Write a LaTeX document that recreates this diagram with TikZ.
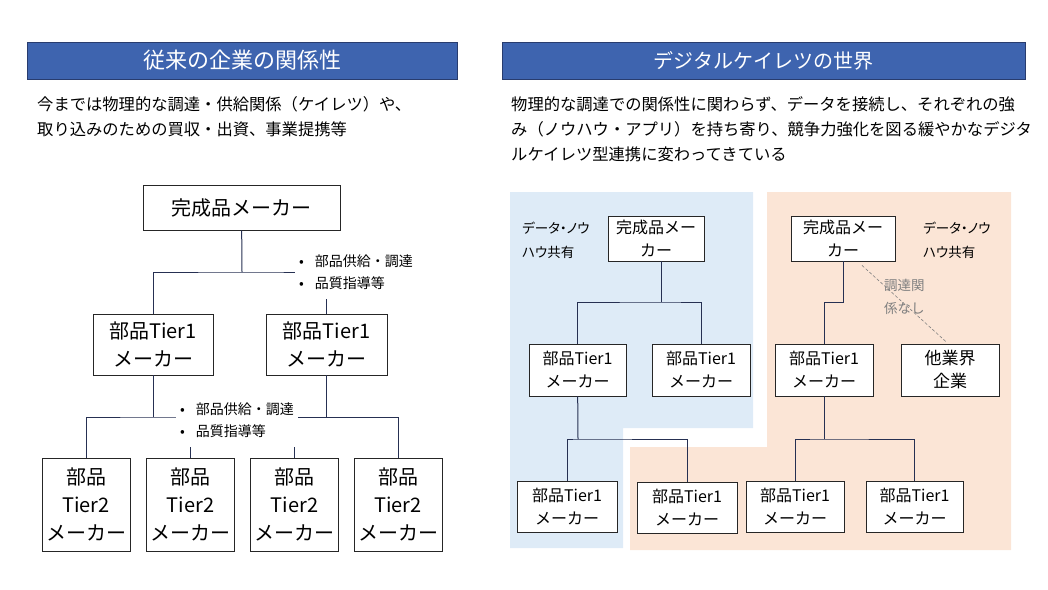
\documentclass[tikz,border=0pt]{standalone}
\usepackage{fontspec}
\setmainfont{Noto Sans CJK JP}
\usetikzlibrary{calc}

\definecolor{hdrblue}{RGB}{62,100,175}
\definecolor{hdrline}{RGB}{40,60,110}
\definecolor{linkcol}{RGB}{38,48,82}
\definecolor{paleblue}{RGB}{222,235,247}
\definecolor{palepeach}{RGB}{251,229,214}

\begin{document}
\begin{tikzpicture}[x=1pt, y=-1pt,
    hdr/.style={draw=hdrline, fill=hdrblue, text=white, minimum height=37pt, inner sep=0pt},
    body/.style={anchor=west, align=left, inner sep=0pt, font=\fontsize{16.3}{25}\selectfont},
    box/.style={draw=black!85, fill=white, line width=0.8pt, inner sep=0pt, align=center},
    bigbox/.style={box, font=\fontsize{20}{28}\selectfont},
    smallbox/.style={box, font=\fontsize{16}{23}\selectfont},
    note/.style={fill=white, align=left, inner xsep=4pt, inner ysep=0pt, minimum height=54pt, anchor=west, font=\fontsize{14}{22}\selectfont},
    share/.style={anchor=west, align=left, inner sep=0pt, font=\fontsize{13.5}{24}\selectfont\addfontfeature{RawFeature=+palt}},
    conn/.style={draw=linkcol, line width=1pt},
    nolink/.style={draw=gray, dashed, dash pattern=on 3pt off 2pt, line width=0.6pt}]

    \useasboundingbox (0,0) rectangle (1048,589);

    % headers and texts
    \node[hdr, minimum width=430pt, font=\fontsize{22}{22}\selectfont] (hdrL) at (242,60.5) {従来の企業の関係性};
    \node[hdr, minimum width=523pt, font=\fontsize{20}{20}\selectfont] (hdrR) at (763.5,60.5) {デジタルケイレツの世界};
    \node[body] (txtL) at (37,116.5) {今までは物理的な調達・供給関係（ケイレツ）や、\\取り込みのための買収・出資、事業提携等};
    \node[body] (txtR) at (511,129) {物理的な調達での関係性に関わらず、データを接続し、それぞれの強\\み（ノウハウ・アプリ）を持ち寄り、競争力強化を図る緩やかなデジタ\\ルケイレツ型連携に変わってきている};

    % left: traditional keiretsu
    \node[bigbox, minimum width=197pt, minimum height=45pt] (top) at (241.5,207.5) {完成品メーカー};
    \node[bigbox, minimum width=120pt, minimum height=61pt] (t1a) at (153,344.5) {部品Tier1\\メーカー};
    \node[bigbox, minimum width=121pt, minimum height=61pt] (t1b) at (326.5,344.5) {部品Tier1\\メーカー};
    \foreach \n/\x in {t2a/86, t2b/190.5, t2c/294.5, t2d/398}
        \node[bigbox, minimum width=88pt, minimum height=93pt] (\n) at (\x,504.5) {部品\\Tier2\\メーカー};

    \coordinate (j1) at (242,272);
    \coordinate (j2) at (153,417);
    \draw[conn] (top) -- (j1);
    \draw[conn] (t1a) |- (j1) -| (t1b);
    \draw[conn] (t1a) -- (j2);
    \draw[conn] (t1b) -- (t1b |- j2);
    \draw[conn] (t2a) |- (j2) -| (t2d);
    \draw[conn] (t2b) -- (t2b |- j2);
    \draw[conn] (t2c) -- (t2c |- j2);

    \node[note] (noteA) at (295,272) {•\hspace{11pt}部品供給・調達\\•\hspace{11pt}品質指導等};
    \node[note] (noteB) at (176,420) {•\hspace{11pt}部品供給・調達\\•\hspace{11pt}品質指導等};

    % right: digital keiretsu
    \fill[paleblue] (510,192) -- (753,192) -- (753,428) -- (623,428) -- (623,548) -- (510,548) -- cycle;
    \fill[palepeach] (767,192) -- (1011,192) -- (1011,550) -- (630,550) -- (630,447) -- (767,447) -- cycle;

    \node[smallbox, minimum width=96pt, minimum height=45pt] (bTop) at (656,238.5) {完成品メー\\カー};
    \node[smallbox, minimum width=97pt, minimum height=52pt] (bT1a) at (577.5,370) {部品Tier1\\メーカー};
    \node[smallbox, minimum width=98pt, minimum height=52pt] (bT1b) at (701,370) {部品Tier1\\メーカー};
    \node[smallbox, minimum width=100pt, minimum height=51pt] (bT2a) at (567,506.5) {部品Tier1\\メーカー};
    \node[smallbox, minimum width=100pt, minimum height=51pt] (bT2b) at (687,507.5) {部品Tier1\\メーカー};

    \node[smallbox, minimum width=104pt, minimum height=45pt] (pTop) at (843,238.5) {完成品メー\\カー};
    \node[smallbox, minimum width=98pt, minimum height=52pt] (pT1) at (824,370) {部品Tier1\\メーカー};
    \node[smallbox, minimum width=98pt, minimum height=52pt, font=\fontsize{17}{23}\selectfont] (pOther) at (950,370) {他業界\\企業};
    \node[smallbox, minimum width=98pt, minimum height=51pt] (pT2a) at (795,506.5) {部品Tier1\\メーカー};
    \node[smallbox, minimum width=97pt, minimum height=51pt] (pT2b) at (914.5,506.5) {部品Tier1\\メーカー};

    \node[share] (shareB1) at (522,240) {データ・ノウ\\ハウ共有};
    \node[share] (shareP1) at (923,240) {データ・ノウ\\ハウ共有};

    \coordinate (j3) at (661,302);
    \coordinate (j4) at (578,439);
    \coordinate (j5) at (824,439);
    \draw[conn] (j3 |- bTop.south) -- (j3);
    \draw[conn] (bT1a) |- (j3) -| (bT1b);
    \draw[conn] (bT1a) -- (j4);
    \draw[conn] (bT2a) |- (j4) -| (bT2b);
    \draw[conn] (pTop.south) -- ++(0,41) -| (pT1.north);
    \draw[conn] (pT1) -- (j5);
    \draw[conn] (pT2a) |- (j5) -| (pT2b);

    \draw[nolink] ($(pTop.south)+(19,4)$) -- ($(pOther.north)+(-3,-1)$);
    \node[share, text=gray, font=\fontsize{13.5}{23}\selectfont] (nolinklabel) at (884,297) {調達関\\係なし};
\end{tikzpicture}
\end{document}
